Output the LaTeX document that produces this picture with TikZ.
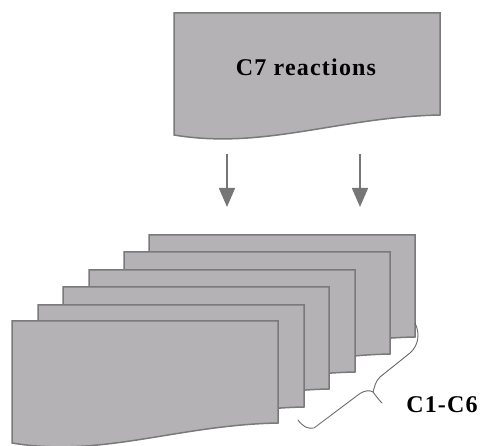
\documentclass[tikz,border=0pt]{standalone}
\usepackage{fontspec}
\newfontfamily\lblfont{Liberation Serif}[LetterSpace=5]
\usetikzlibrary{arrows.meta}
\definecolor{docfill}{RGB}{180,178,181}
\definecolor{docline}{RGB}{122,121,123}
\definecolor{arrowcol}{RGB}{118,118,118}
\definecolor{bracecol}{RGB}{105,105,105}
\tikzset{
  docstyle/.style={fill=docfill, draw=docline, line width=1.5pt, line join=miter},
  docsheet/.pic={
    \path[docstyle] (0,0) -- (266,0) -- (266,102)
      .. controls (165,104) and (90,137) .. (0,122) -- cycle;
  },
  flowarrow/.style={draw=arrowcol, line width=1.6pt,
    -{Triangle[width=16pt,length=19pt]}},
  bracestyle/.style={draw=bracecol, line width=0.9pt, line cap=round, line join=round},
  lbl/.style={font=\lblfont\bfseries\fontsize{24}{28}\selectfont, inner sep=0pt, anchor=base}
}
\begin{document}
\begin{tikzpicture}[x=1pt,y=-1pt]
\useasboundingbox (0,0) rectangle (480,446);
% top document
\pic at (174,13) {docsheet};
\node[lbl] (c7) at (306,76) {C7 reactions};
% arrows
\coordinate (a1s) at (227,154);
\coordinate (a1e) at (227,207);
\coordinate (a2s) at (360,154);
\coordinate (a2e) at (360,207);
\draw[flowarrow] (a1s) -- (a1e);
\draw[flowarrow] (a2s) -- (a2e);
% stack of documents, back to front
\pic at (149,235) {docsheet};
\pic at (124,252) {docsheet};
\pic at (89,270) {docsheet};
\pic at (63,287) {docsheet};
\pic at (38,305) {docsheet};
\pic at (12,321) {docsheet};
% brace
\coordinate (bs) at (298,420);
\coordinate (bj) at (373,392);
\coordinate (bt) at (382,403);
\coordinate (be) at (415,323);
\draw[bracestyle] (bs) .. controls (303,427) and (308,429) .. (314,428)
  -- (358,395) .. controls (364,390) and (370,390) .. (bj);
\draw[bracestyle] (bj) .. controls (376,396) and (379,400) .. (bt);
\draw[bracestyle] (bj) .. controls (375,386) and (375,382) .. (380,377)
  -- (410,353) .. controls (419,345) and (420,333) .. (be);
\node[lbl] (c16) at (442,413) {C1-C6};
\end{tikzpicture}
\end{document}
